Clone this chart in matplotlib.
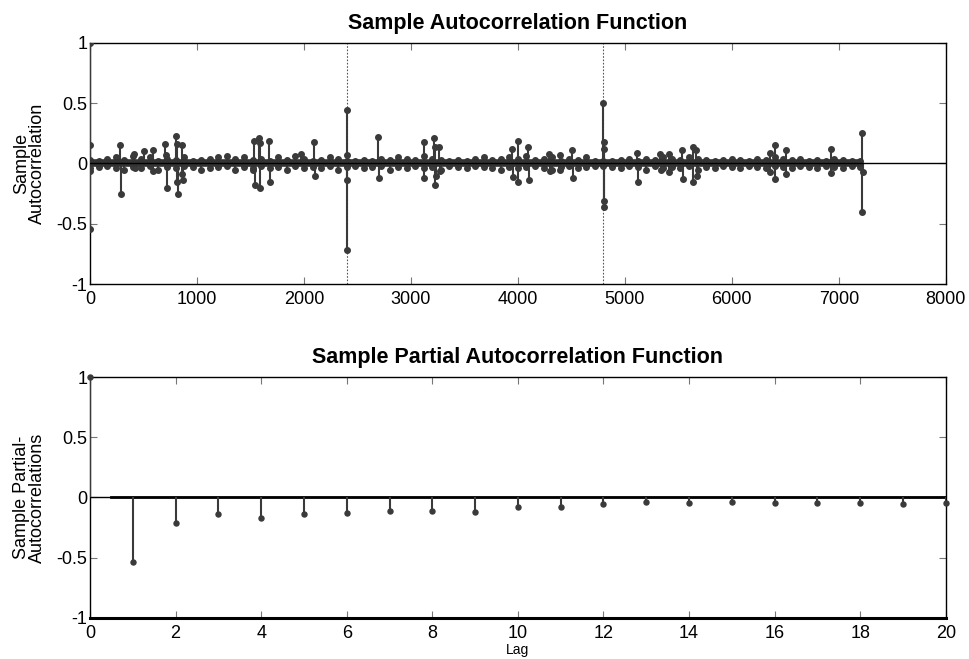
import numpy as np
import matplotlib.pyplot as plt

plt.rcParams['font.family'] = ['Liberation Sans', 'DejaVu Sans']

# ---- ACF: notable spikes (lag, value)
acf_lags = [0, 1, 2, 3, 284, 290, 412, 418, 505, 586, 592, 704, 710, 715,
            804, 810, 815, 820, 857, 862, 867, 1528, 1533, 1538, 1580, 1585,
            1590, 1673, 1678, 1973, 2094, 2100, 2400, 2401, 2402, 2403,
            2696, 2702, 3120, 3126, 3219, 3224, 3229, 3234, 3266, 3272,
            3945, 3950, 3998, 4004, 4095, 4100, 4290, 4296, 4391, 4396,
            4509, 4515, 4800, 4801, 4802, 4803, 4804, 5117, 5123, 5330,
            5336, 5410, 5416, 5535, 5541, 5635, 5641, 5666, 5672, 6354,
            6360, 6401, 6407, 6504, 6510, 6925, 6931, 7220, 7221, 7222]
acf_vals = [1.0, -0.54, 0.15, -0.06, 0.15, -0.25, 0.08, -0.04, 0.10, 0.11,
            -0.06, 0.16, 0.07, -0.20, 0.23, 0.16, -0.15, -0.25, 0.15, -0.09,
            -0.14, -0.05, 0.19, -0.18, 0.21, 0.17, -0.20, 0.19, -0.15, 0.08,
            0.18, -0.10, 0.44, -0.72, 0.07, -0.14, 0.22, -0.12, 0.18, -0.12,
            0.21, 0.14, -0.18, -0.10, 0.14, -0.06, 0.12, -0.11, 0.19, -0.15,
            0.14, -0.14, 0.08, -0.06, 0.07, -0.05, 0.11, -0.12, 0.50, -0.36,
            0.18, -0.31, 0.12, 0.09, -0.15, 0.08, -0.05, 0.08, -0.07, 0.11,
            -0.13, 0.14, -0.15, 0.11, -0.10, 0.09, -0.07, 0.15, -0.13, 0.11,
            -0.09, 0.12, -0.08, 0.25, -0.40, -0.07]

# ---- ACF: small background values (every 80 lags, upper and lower)
band_lags = np.arange(0, 7201, 80)
band_up = [0.03, 0.02, 0.04, 0.05, 0.03, 0.06, 0.04, 0.05, 0.02, 0.04,
           0.03, 0.05, 0.02, 0.03, 0.04, 0.05, 0.06, 0.04, 0.05, 0.03,
           0.04, 0.02, 0.05, 0.03, 0.06, 0.04, 0.02, 0.03, 0.05, 0.04,
           0.02, 0.02, 0.03, 0.02, 0.04, 0.03, 0.05, 0.04, 0.03, 0.06,
           0.04, 0.03, 0.02, 0.03, 0.02, 0.04, 0.05, 0.03, 0.04, 0.05,
           0.04, 0.06, 0.03, 0.04, 0.05, 0.02, 0.04, 0.03, 0.05, 0.02,
           0.02, 0.02, 0.03, 0.04, 0.02, 0.04, 0.03, 0.05, 0.04, 0.03,
           0.05, 0.04, 0.03, 0.02, 0.03, 0.04, 0.03, 0.02, 0.04, 0.03,
           0.05, 0.04, 0.03, 0.04, 0.02, 0.03, 0.02, 0.04, 0.03, 0.02,
           0.02]
band_dn = [-0.04, -0.03, -0.02, -0.04, -0.05, -0.03, -0.04, -0.02, -0.05, -0.03,
           -0.04, -0.02, -0.03, -0.05, -0.04, -0.03, -0.02, -0.05, -0.03, -0.04,
           -0.02, -0.04, -0.03, -0.05, -0.02, -0.04, -0.03, -0.04, -0.02, -0.05,
           -0.03, -0.02, -0.04, -0.03, -0.02, -0.05, -0.03, -0.04, -0.02, -0.04,
           -0.03, -0.05, -0.02, -0.03, -0.04, -0.02, -0.03, -0.04, -0.05, -0.03,
           -0.04, -0.03, -0.02, -0.04, -0.05, -0.03, -0.02, -0.04, -0.03, -0.02,
           -0.02, -0.03, -0.04, -0.02, -0.03, -0.05, -0.02, -0.04, -0.03, -0.04,
           -0.02, -0.05, -0.03, -0.04, -0.02, -0.03, -0.04, -0.02, -0.03, -0.04,
           -0.02, -0.03, -0.04, -0.02, -0.03, -0.04, -0.02, -0.03, -0.04, -0.02,
           -0.03]

# ---- PACF
pacf_lags = np.arange(0, 21)
pacf_vals = [1.0, -0.54, -0.21, -0.14, -0.17, -0.14, -0.13, -0.11, -0.11,
             -0.12, -0.083, -0.083, -0.055, -0.04, -0.045, -0.04, -0.045,
             -0.045, -0.045, -0.055, -0.045]

seasonal = [2400, 4800]

stem_c = '#3a3a3a'

fig = plt.figure(figsize=(9.69, 6.59), dpi=100)
ax1 = fig.add_axes([0.0929, 0.569, 0.8831, 0.3658])
ax2 = fig.add_axes([0.0929, 0.0627, 0.8831, 0.3648])


def style(ax):
    ax.set_ylim(-1, 1)
    ax.set_yticks([-1, -0.5, 0, 0.5, 1])
    ax.set_yticklabels(['-1', '-0.5', '0', '0.5', '1'])
    ax.tick_params(direction='in', top=True, right=True, length=5,
                   color='#777777', labelsize=13, pad=2)
    ax.tick_params(axis='x', pad=5)
    for s in ax.spines.values():
        s.set_linewidth(1.0)
        s.set_color('black')
    ax.yaxis.set_label_coords(-0.051, 0.5)


# top panel
for x in seasonal:
    ax1.axvline(x, color='#555555', ls=(0, (1.5, 1.5)), lw=0.8, zorder=1)
ax1.axhline(0, color='black', lw=1.0, zorder=2)
ax1.vlines(band_lags, 0, band_up, color=stem_c, lw=1.5, zorder=3)
ax1.vlines(band_lags, 0, band_dn, color=stem_c, lw=1.5, zorder=3)
ax1.plot(band_lags, band_up, 'o', color=stem_c, ms=4, zorder=4)
ax1.plot(band_lags, band_dn, 'o', color=stem_c, ms=4, zorder=4)
ax1.vlines(acf_lags, 0, acf_vals, color=stem_c, lw=1.5, zorder=3)
ax1.plot(acf_lags, acf_vals, 'o', color=stem_c, ms=4, zorder=4)
ax1.plot([0, 7222], [0, 0], color='#333333', lw=5.5, zorder=5,
         solid_capstyle='butt')
ax1.plot([0, 7222], [0, 0], color='black', lw=1.0, zorder=6)
ax1.set_xlim(0, 8000)
ax1.set_xticks(np.arange(0, 8001, 1000))
style(ax1)
ax1.set_title('Sample Autocorrelation Function', fontsize=15.5,
              fontweight='bold', pad=10)
ax1.set_ylabel('Sample\nAutocorrelation', fontsize=13, linespacing=0.95)

# bottom panel
ax2.axhline(0, color='black', lw=1.0, zorder=2)
ax2.plot([0.5, 20], [0, 0], color='black', lw=2.0, zorder=2)
ax2.vlines(pacf_lags, 0, pacf_vals, color=stem_c, lw=1.5, zorder=3)
ax2.plot(pacf_lags, pacf_vals, 'o', color=stem_c, ms=3.6, zorder=4,
         clip_on=False)
ax2.set_xlim(0, 20)
ax2.set_xticks(np.arange(0, 21, 2))
style(ax2)
ax2.spines['bottom'].set_linewidth(2.2)
ax2.set_title('Sample Partial Autocorrelation Function', fontsize=15.5,
              fontweight='bold', pad=10)
ax2.set_ylabel('Sample Partial-\nAutocorrelations', fontsize=13,
               linespacing=0.95)
ax2.set_xlabel('Lag', fontsize=10, labelpad=1)

fig.savefig('out.png', dpi=100)
